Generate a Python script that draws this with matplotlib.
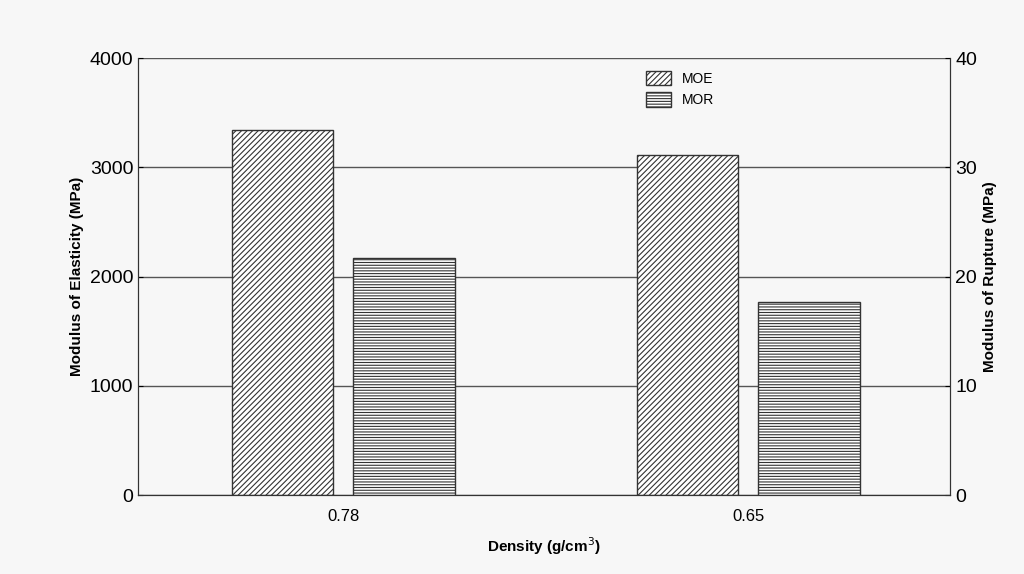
import matplotlib
matplotlib.use("Agg")
import matplotlib.pyplot as plt
import numpy as np

categories = ["0.78", "0.65"]
moe = [3340, 3110]
mor = [21.7, 17.7]

plt.rcParams['font.family'] = ['Liberation Sans', 'DejaVu Sans']
plt.rcParams['hatch.linewidth'] = 0.8
fig = plt.figure(figsize=(10.24, 5.74), dpi=100, facecolor='#f7f7f7')
ax = fig.add_axes([0.135, 0.1376, 0.793, 0.761])
ax.set_facecolor('#f7f7f7')
x = np.arange(len(categories))
ax.set_xlim(-0.506, 1.499)
ax.set_ylim(0, 4000)
ax.set_yticks([0, 1000, 2000, 3000, 4000])
ax.yaxis.grid(True, color='#555555', linewidth=1)
ax.set_axisbelow(True)
b1 = ax.bar(x - 0.15, moe, 0.25, facecolor='white', edgecolor='#333333', hatch='//////', linewidth=1, label='MOE')
ax2 = ax.twinx()
ax2.set_ylim(0, 40)
ax2.set_yticks([0, 10, 20, 30, 40])
b2 = ax2.bar(x + 0.15, mor, 0.25, facecolor='white', edgecolor='#333333', hatch='------', linewidth=1, label='MOR')
ax.set_xticks(x)
ax.set_xticklabels(categories, fontsize=12)
ax.tick_params(axis='y', labelsize=14, direction='in')
ax2.tick_params(axis='y', labelsize=14, direction='in')
ax.tick_params(axis='x', length=0, pad=10)
for a in (ax, ax2):
    a.spines['top'].set_visible(False)
    for s in ('left', 'right', 'bottom'):
        a.spines[s].set_color('#333333')
ax.set_ylabel('Modulus of Elasticity (MPa)', fontsize=11, fontweight='bold')
ax2.set_ylabel('Modulus of Rupture (MPa)', fontsize=11, fontweight='bold')
ax.set_xlabel('Density (g/cm$^3$)', fontsize=11, fontweight='bold', labelpad=8)
ax2.legend([b1, b2], ['MOE', 'MOR'], loc='upper left', bbox_to_anchor=(0.61, 1.0),
           frameon=False, fontsize=10, handlelength=1.8, handleheight=1.2)
fig.savefig('out.png', dpi=100, facecolor=fig.get_facecolor())
